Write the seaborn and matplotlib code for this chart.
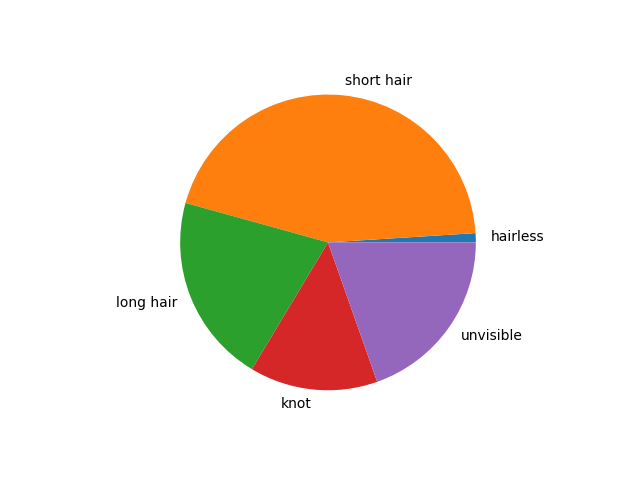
import matplotlib
matplotlib.use('Agg')
import matplotlib.pyplot as plt
import seaborn as sns

labels = ['hairless', 'short hair', 'long hair', 'knot', 'unvisible']
values = [1.0, 44.7, 20.7, 14.0, 19.6]

colors = sns.color_palette('tab10', len(labels))

fig = plt.figure(figsize=(6.4, 4.8), dpi=100)
ax = fig.add_subplot(1, 1, 1)
ax.pie(values, labels=labels, colors=colors)
plt.savefig('out.png')
plt.close()
